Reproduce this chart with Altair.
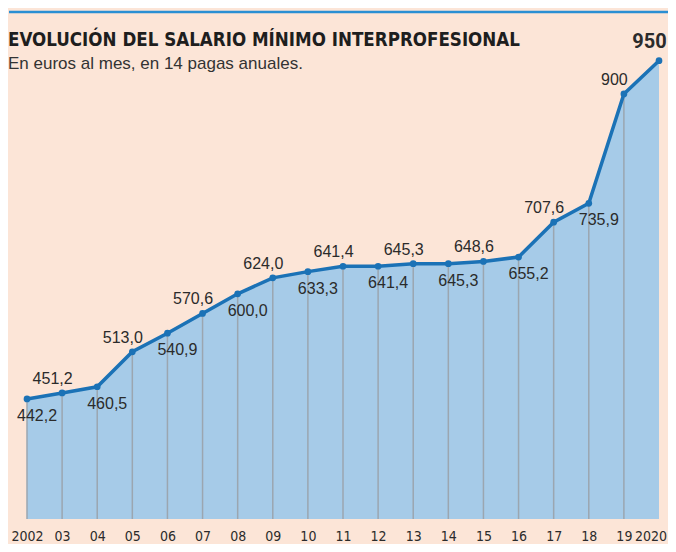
import altair as alt
import pandas as pd

# ---- data -------------------------------------------------------------
years = list(range(2002, 2021))
salario = [442.2, 451.2, 460.5, 513.0, 540.9, 570.6, 600.0, 624.0, 633.3,
           641.4, 641.4, 645.3, 645.3, 648.6, 655.2, 707.6, 735.9, 900.0, 950.0]
etiquetas = ["442,2", "451,2", "460,5", "513,0", "540,9", "570,6", "600,0",
             "624,0", "633,3", "641,4", "641,4", "645,3", "645,3", "648,6",
             "655,2", "707,6", "735,9", "900", "950"]
tick_labels = ["2002", "03", "04", "05", "06", "07", "08", "09", "10", "11",
               "12", "13", "14", "15", "16", "17", "18", "19", "2020"]

titulo = "EVOLUCIÓN DEL SALARIO MÍNIMO INTERPROFESIONAL"
subtitulo = "En euros al mes, en 14 pagas anuales."

df = pd.DataFrame({"year": years, "value": salario, "label": etiquetas})
df["pos"] = ["below" if i % 2 == 0 else "above" for i in range(len(df))]
df.loc[df.index[-1], "pos"] = "last"
ticks_df = pd.DataFrame({"year": years, "tick": tick_labels})
head_df = pd.DataFrame({"title": [titulo], "subtitle": [subtitulo]})

# ---- styles -----------------------------------------------------------
W, H = 632, 465
BG = "#FCE5D7"
AREA = "#A6CBE8"
LINE = "#1B72B6"
GRID = "#9BA6B0"
TOPLINE = "#2A8FD3"
TXT = "#2B2B2B"
YMIN, YMAX = 262, 960
COND = "DejaVu Sans Condensed, Roboto, sans-serif"

x_enc = alt.X("year:Q", scale=alt.Scale(domain=[years[0], years[-1]], nice=False, zero=False), axis=None)
y_enc = alt.Y("value:Q", scale=alt.Scale(domain=[YMIN, YMAX], nice=False, zero=False), axis=None)

base = alt.Chart(df)

area = base.mark_area(color=AREA, opacity=1).encode(x=x_enc, y=y_enc, y2=alt.datum(YMIN))
rules = base.transform_filter(f"datum.year < {years[-1]}").mark_rule(
    color=GRID, strokeWidth=1.5).encode(x="year:Q", y="value:Q", y2=alt.datum(YMIN))
line = base.mark_line(color=LINE, strokeWidth=3.5).encode(x="year:Q", y="value:Q")
pts = base.mark_circle(color=LINE, size=45, opacity=1).encode(x="year:Q", y="value:Q")

txt_kw = dict(font="Liberation Sans", fontSize=16, color=TXT, baseline="middle", align="center")
lab_above = base.transform_filter("datum.pos == 'above'").mark_text(dx=-9.5, dy=-14, **txt_kw).encode(
    x="year:Q", y="value:Q", text="label:N")
lab_below = base.transform_filter("datum.pos == 'below'").mark_text(dx=10, dy=17, **txt_kw).encode(
    x="year:Q", y="value:Q", text="label:N")
lab_last = base.transform_filter("datum.pos == 'last'").mark_text(
    dx=-9.5, dy=-19, font="Roboto", fontSize=20, fontWeight="bold",
    color=TXT, baseline="middle", align="center").encode(x="year:Q", y="value:Q", text="label:N")

tick_kw = dict(font=COND, fontSize=14, color=TXT, baseline="alphabetic")
xticks = alt.Chart(ticks_df).transform_filter(f"datum.year < {years[-1]}").mark_text(
    dx=0.5, align="center", **tick_kw).encode(x="year:Q", y=alt.value(H + 21.5), text="tick:N")
xtick_last = alt.Chart(ticks_df).transform_filter(f"datum.year == {years[-1]}").mark_text(
    dx=8, align="right", **tick_kw).encode(x="year:Q", y=alt.value(H + 21.5), text="tick:N")

topline = alt.Chart(head_df).mark_rule(color=TOPLINE, strokeWidth=2.5).encode(
    x=alt.value(-18), x2=alt.value(W + 9), y=alt.value(-42))
title_t = alt.Chart(head_df).mark_text(
    font=COND, fontSize=18.6, fontWeight="bold", color="#1E1E1E", align="left", baseline="alphabetic"
).encode(x=alt.value(-19), y=alt.value(-8.5), text="title:N")
subtitle_t = alt.Chart(head_df).mark_text(
    font="Liberation Sans", fontSize=17, color="#333333", align="left", baseline="alphabetic"
).encode(x=alt.value(-19), y=alt.value(14.5), text="subtitle:N")

chart = alt.layer(area, rules, line, pts, lab_above, lab_below, lab_last,
                  xticks, xtick_last, topline, title_t, subtitle_t).properties(
    width=W, height=H,
    autosize=alt.AutoSizeParams(type="none"),
    padding={"left": 19, "top": 46, "right": 9, "bottom": 25},
    background=BG,
).configure_view(stroke=None)

chart.save("out.html", embed_options={"renderer": "svg", "actions": False})
